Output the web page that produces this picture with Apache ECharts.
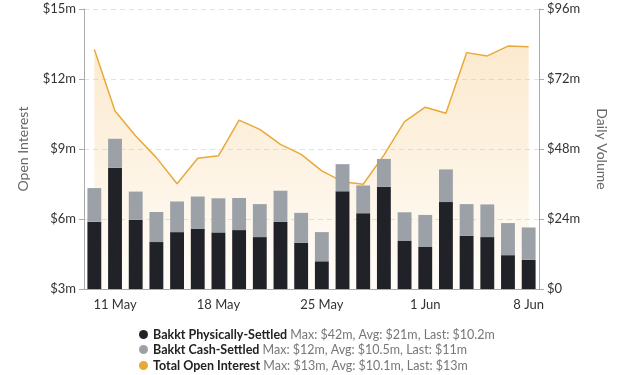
<!DOCTYPE html>
<html>
<head>
<meta charset="utf-8">
<script src="https://cdn.jsdelivr.net/npm/echarts@6/dist/echarts.min.js"></script>
<style>
html,body{margin:0;padding:0;background:#fff;}
#chart{width:617px;height:375px;}
</style>
</head>
<body>
<div id="chart"></div>
<script>
var categories = ['8 May','11 May','12 May','13 May','14 May','15 May','18 May','19 May','20 May','21 May','22 May','25 May','26 May','27 May','28 May','29 May','1 Jun','2 Jun','3 Jun','4 Jun','5 Jun','8 Jun'];
var tickLabels = ['11 May','18 May','25 May','1 Jun','8 Jun'];
var physicallySettled = [23.1,41.6,23.7,16.1,19.5,20.7,19.4,20.2,17.8,23.0,15.8,9.5,33.5,26.0,35.0,16.6,14.4,29.8,18.2,17.8,11.6,10.0];
var cashSettled = [11.5,9.9,9.7,10.3,10.5,11.0,11.7,11.0,11.3,10.7,10.3,10.0,9.3,9.5,9.6,9.7,11.0,11.2,10.9,11.2,11.0,11.1];
var totalOpenInterest = [13.27,10.63,9.56,8.63,7.51,8.60,8.71,10.24,9.84,9.20,8.77,8.06,7.60,7.49,8.74,10.17,10.79,10.53,13.13,12.99,13.41,13.38];
var seriesNames = ['Bakkt Physically-Settled','Bakkt Cash-Settled','Total Open Interest'];
var legendStats = ['Max: $42m, Avg: $21m, Last: $10.2m','Max: $12m, Avg: $10.5m, Last: $11m','Max: $13m, Avg: $10.1m, Last: $13m'];
var leftTicks = {min:3, max:15, interval:3};
var rightTicks = {min:0, max:96, interval:24};

var FONT = 'Lato';
var chart = echarts.init(document.getElementById('chart'), null, {renderer:'canvas'});
function isTick(idx){ return tickLabels.indexOf(categories[idx]) >= 0; }
var legendTops = [323, 338, 354];
var legends = seriesNames.map(function(name, i){
  return {
    orient:'horizontal', left:134, top:legendTops[i],
    icon:'circle', itemWidth:9, itemHeight:9, itemGap:4,
    data:[name],
    formatter:function(n){
      return '{n|' + n + '} {s|' + legendStats[i] + '}';
    },
    textStyle:{
      fontFamily:FONT,
      rich:{
        n:{fontFamily:FONT, fontSize:12.5, color:'#222', fontWeight:'bold'},
        s:{fontFamily:FONT, fontSize:12.5, color:'#777'}
      }
    }
  };
});
var option = {
  animation:false,
  textStyle:{fontFamily:FONT},
  grid:{left:84, right:75, top:9, bottom:86},
  legend:legends,
  xAxis:{
    type:'category', data:categories, boundaryGap:true,
    axisLine:{lineStyle:{color:'#aaa'}},
    axisTick:{alignWithLabel:true, length:5, lineStyle:{color:'#aaa'}, interval:function(i){return isTick(i);}},
    axisLabel:{interval:function(i){return isTick(i);}, color:'#333', fontSize:13, fontFamily:FONT, margin:9}
  },
  yAxis:[
    {
      type:'value', min:leftTicks.min, max:leftTicks.max, interval:leftTicks.interval,
      name:'Open Interest', nameLocation:'middle', nameGap:54, nameRotate:90,
      nameTextStyle:{color:'#666', fontSize:14, fontFamily:FONT},
      axisLine:{show:true, lineStyle:{color:'#aaa'}},
      axisTick:{show:true, length:5, lineStyle:{color:'#aaa'}},
      axisLabel:{formatter:function(v){return '$'+v+'m';}, color:'#333', fontSize:13, fontFamily:FONT, margin:8},
      splitLine:{show:true, lineStyle:{color:'#e2e2e2', type:[5,4]}}
    },
    {
      type:'value', min:rightTicks.min, max:rightTicks.max, interval:rightTicks.interval, position:'right',
      name:'Daily Volume', nameLocation:'middle', nameGap:56, nameRotate:-90,
      nameTextStyle:{color:'#666', fontSize:14, fontFamily:FONT},
      axisLine:{show:true, lineStyle:{color:'#aaa'}},
      axisTick:{show:true, length:5, lineStyle:{color:'#aaa'}},
      axisLabel:{formatter:function(v){return v===0?'$0':'$'+v+'m';}, color:'#333', fontSize:13, fontFamily:FONT, margin:8},
      splitLine:{show:false}
    }
  ],
  series:[
    {
      name:seriesNames[0], type:'bar', stack:'vol', yAxisIndex:1, data:physicallySettled,
      barWidth:'67%', itemStyle:{color:'#202227'}, z:3
    },
    {
      name:seriesNames[1], type:'bar', stack:'vol', yAxisIndex:1, data:cashSettled,
      barWidth:'67%', itemStyle:{color:'#9ba1a7'}, z:3
    },
    {
      name:seriesNames[2], type:'line', yAxisIndex:0, data:totalOpenInterest,
      symbol:'none', z:2, itemStyle:{color:'#e9a93a'},
      lineStyle:{color:'#e9a93a', width:1.5},
      areaStyle:{origin:'start', color:new echarts.graphic.LinearGradient(0,0,0,1,[
        {offset:0, color:'rgba(244,188,100,0.45)'},
        {offset:1, color:'rgba(244,188,100,0.06)'}
      ])}
    }
  ]
};
chart.setOption(option);
</script>
</body>
</html>
